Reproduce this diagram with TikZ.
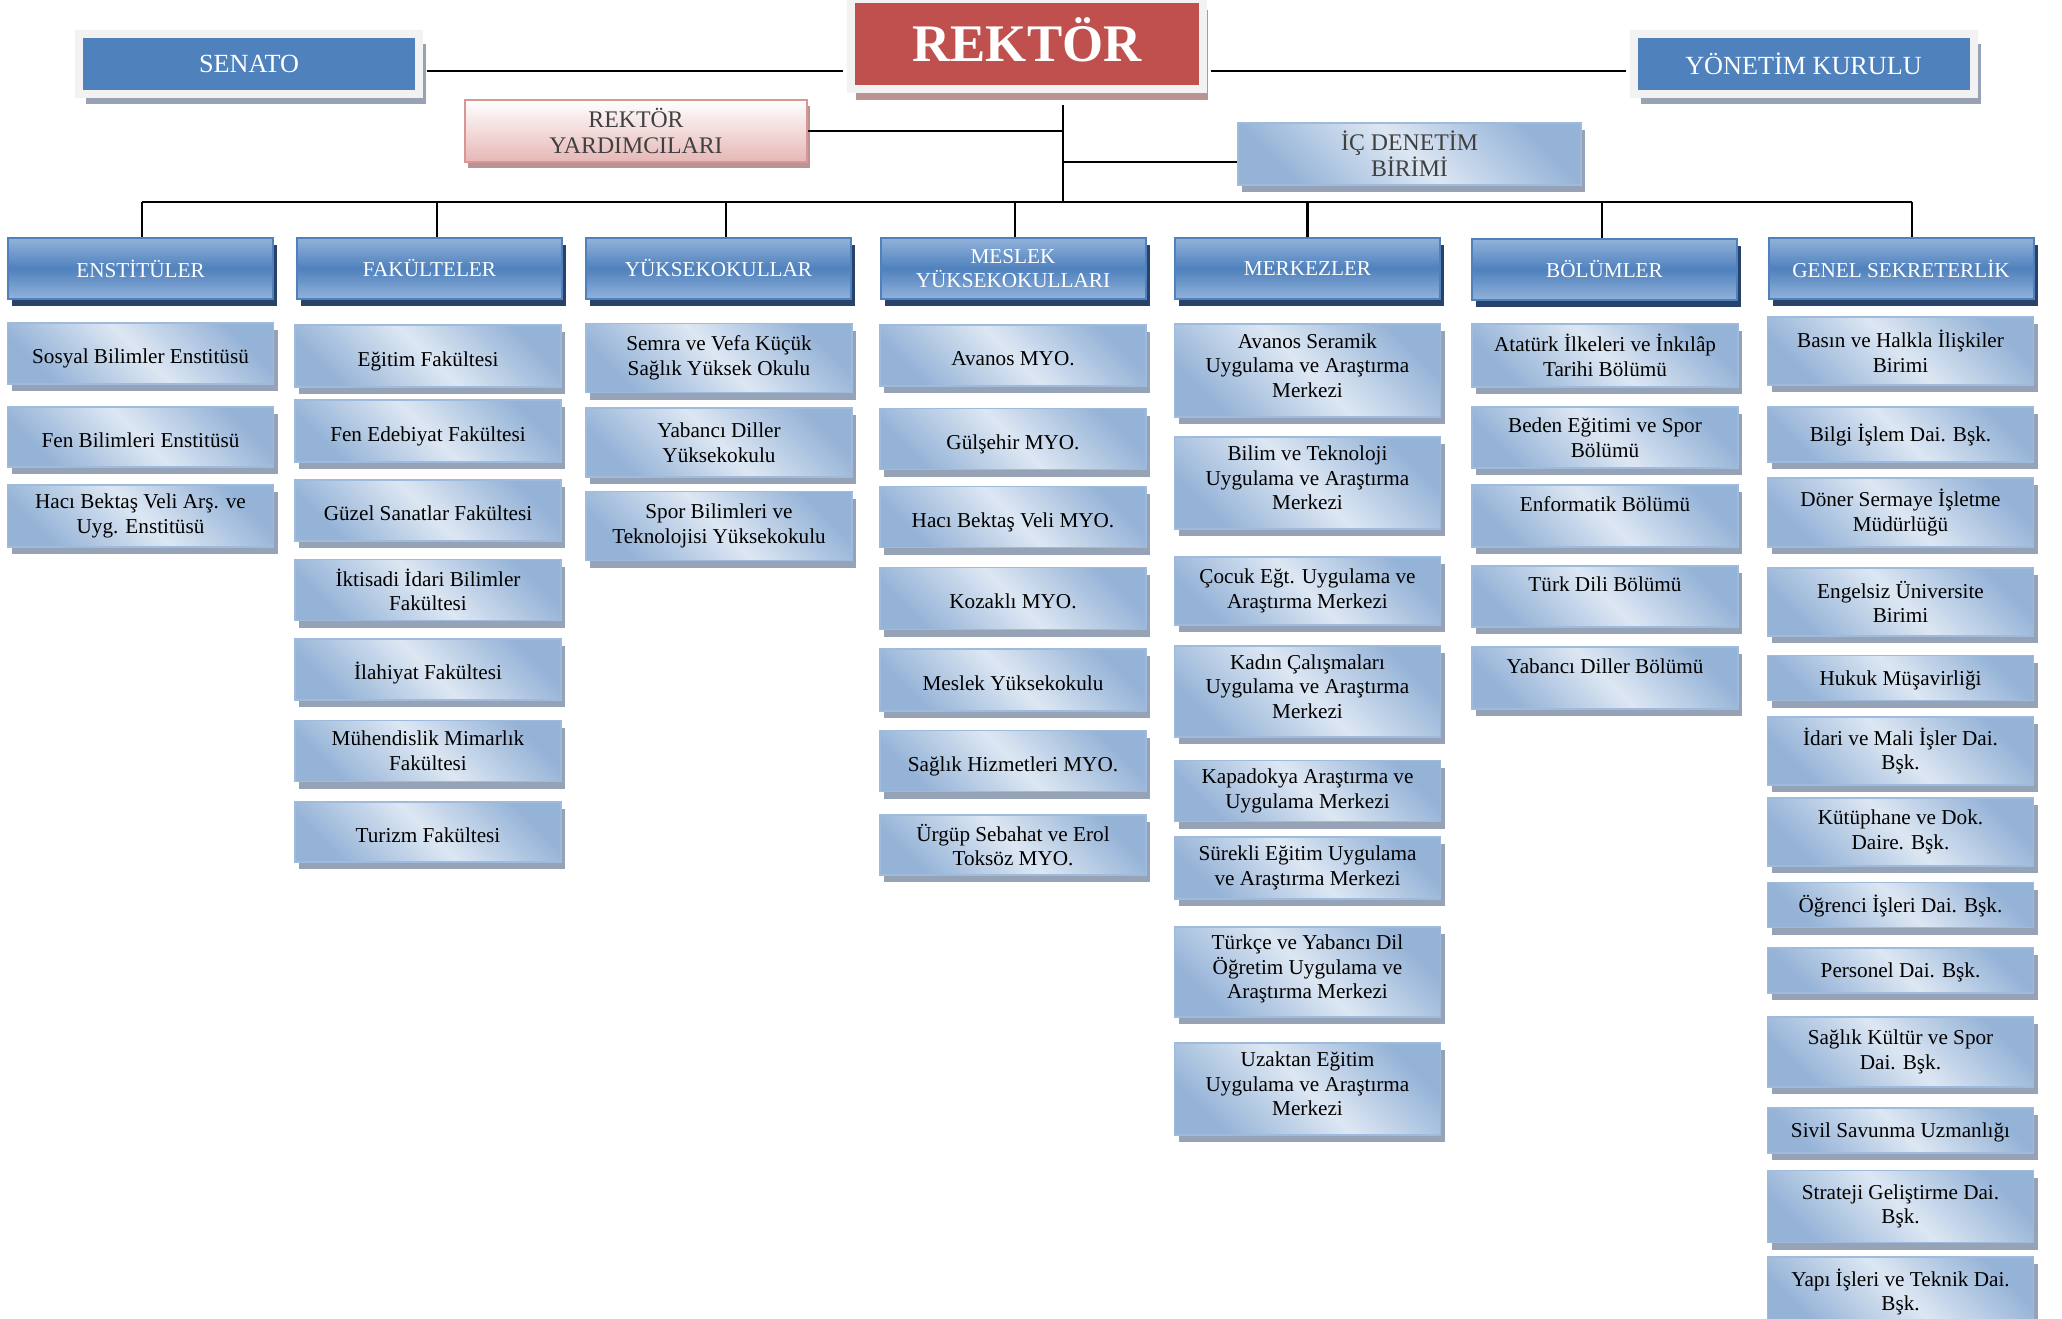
\documentclass[tikz,border=0pt]{standalone}
\usepackage{fontspec}
\setmainfont{Liberation Serif}
\usetikzlibrary{shadows}

\definecolor{unitblue}{RGB}{149,179,215}
\definecolor{unitlight}{RGB}{221,231,243}
\definecolor{unitline}{RGB}{158,187,222}
\definecolor{unitshadow}{RGB}{150,163,182}
\definecolor{headblue}{RGB}{79,129,189}
\definecolor{headlight}{RGB}{146,178,218}
\definecolor{headshadow}{RGB}{41,66,105}
\definecolor{boardblue}{RGB}{79,129,189}
\definecolor{framegray}{RGB}{242,242,242}
\definecolor{boardshadow}{RGB}{152,162,180}
\definecolor{rektorred}{RGB}{192,80,77}
\definecolor{rektorshadow}{RGB}{184,148,147}
\definecolor{pinkfill}{RGB}{230,183,182}
\definecolor{pinkline}{RGB}{217,150,148}
\definecolor{darktext}{RGB}{64,64,64}

\tikzset{
    unitbox/.style={rectangle, draw=unitline, line width=0.7pt,
        top color=unitblue, bottom color=unitblue, middle color=unitlight, shading angle=-45,
        minimum width=133pt, inner sep=0pt, align=center,
        font=\fontsize{10.6pt}{12.3pt}\selectfont,
        drop shadow={shadow xshift=2pt, shadow yshift=-3.5pt, fill=unitshadow, opacity=1}},
    oneline/.style={text height=#1, text depth=1pt},
    threeline/.style={text depth=5pt},
    headbox/.style={rectangle, draw=headblue, line width=1pt,
        top color=headlight, bottom color=headlight, middle color=headblue,
        minimum width=132.5pt, minimum height=30.5pt, inner sep=0pt, align=center, text=white,
        font=\fontsize{10.6pt}{12.3pt}\selectfont,
        drop shadow={shadow xshift=2pt, shadow yshift=-3.5pt, fill=headshadow, opacity=1}},
    boardbox/.style={rectangle, draw=framegray, line width=4pt, fill=boardblue, text=white,
        minimum width=170pt, minimum height=30pt, inner sep=0pt,
        font=\fontsize{13.1pt}{15pt}\selectfont,
        drop shadow={shadow xshift=3.5pt, shadow yshift=-5pt, fill=boardshadow, opacity=1}},
    rektorbox/.style={rectangle, draw=framegray, line width=4pt, fill=rektorred, text=white,
        minimum width=176pt, minimum height=45pt, inner sep=0pt, text height=17pt, text depth=0pt,
        font=\fontsize{26.4pt}{30pt}\selectfont\bfseries,
        drop shadow={shadow xshift=2.5pt, shadow yshift=-5.5pt, fill=rektorshadow, opacity=1}},
    deputybox/.style={rectangle, draw=pinkline, line width=0.8pt, top color=white, bottom color=pinkfill,
        minimum width=171pt, minimum height=31pt, inner sep=0pt, align=center, text=darktext,
        font=\fontsize{11.9pt}{13pt}\selectfont,
        drop shadow={shadow xshift=1.5pt, shadow yshift=-3pt, fill=rektorshadow, opacity=1}},
    auditbox/.style={unitbox, minimum width=171.5pt, minimum height=31pt, text=darktext,
        font=\fontsize{11.9pt}{13pt}\selectfont},
    link/.style={line width=1.2pt}
}

\begin{document}
\begin{tikzpicture}[x=0.5pt, y=-0.5pt]
    \useasboundingbox[fill=white] (0,0) rectangle (2062,1318);

    % top level
    \node[boardbox] (senato) at (249,64) {SENATO};
    \node[rektorbox] (rektor) at (1027,44) {REKTÖR};
    \node[boardbox] (yonetim) at (1803.5,64) {YÖNETİM KURULU};
    \node[deputybox] (yardimci) at (636,131) {REKTÖR\\YARDIMCILARI};
    \node[auditbox] (denetim) at (1409.5,154) {İÇ DENETİM\\BİRİMİ};
    \coordinate (hub) at (1063,202);

    \draw[link, shorten <=2pt, shorten >=2pt] ([yshift=-3.5pt]senato.east) -- ([yshift=-3.5pt]senato.east -| rektor.west);
    \draw[link, shorten <=2pt, shorten >=2pt] ([yshift=-3.5pt]yonetim.west -| rektor.east) -- ([yshift=-3.5pt]yonetim.west);
    \draw[link, shorten <=6pt] (rektor.south -| hub) -- (hub);
    \draw[link] (yardimci.east) -- (yardimci.east -| hub);
    \draw[link] ([yshift=-4pt]denetim.west) -- ([yshift=-4pt]denetim.west -| hub);

    % second level
    \node[headbox] (enstitu) at (140.5,268.5) {ENSTİTÜLER};
    \node[headbox] (fakulte) at (429.5,268.5) {FAKÜLTELER};
    \node[headbox] (yuksekokul) at (718.5,268.5) {YÜKSEKOKULLAR};
    \node[headbox] (myo) at (1013,268.5) {MESLEK\\YÜKSEKOKULLARI};
    \node[headbox] (merkez) at (1307.5,268.5) {MERKEZLER};
    \node[headbox] (bolum) at (1604.5,269.5) {BÖLÜMLER};
    \node[headbox] (genel) at (1901,268.5) {GENEL SEKRETERLİK};

    \draw[link] ([xshift=0.75pt]enstitu.north |- hub) -- ([xshift=5.5pt]genel.north |- hub);
    \draw[link] ([xshift=0.75pt]enstitu.north |- hub) -- ([xshift=0.75pt]enstitu.north);
    \draw[link] ([xshift=3.75pt]fakulte.north |- hub) -- ([xshift=3.75pt]fakulte.north);
    \draw[link] ([xshift=3.75pt]yuksekokul.north |- hub) -- ([xshift=3.75pt]yuksekokul.north);
    \draw[link] ([xshift=1pt]myo.north |- hub) -- ([xshift=1pt]myo.north);
    \draw[link] (merkez.north |- hub) -- (merkez.north);
    \draw[link] ([xshift=-1.25pt]bolum.north |- hub) -- ([xshift=-1.25pt]bolum.north);
    \draw[link] ([xshift=5.5pt]genel.north |- hub) -- ([xshift=5.5pt]genel.north);

    % enstituler
    \node[unitbox, oneline=11pt, minimum height=30.5pt] (sosyal) at (140.5,353.5) {Sosyal Bilimler Enstitüsü};
    \node[unitbox, oneline=11pt, minimum height=30pt] (fenbil) at (140.5,437) {Fen Bilimleri Enstitüsü};
    \node[unitbox, minimum height=31pt] (hbvenst) at (140.5,516) {Hacı Bektaş Veli Arş. ve\\Uyg. Enstitüsü};

    % fakulteler
    \node[unitbox, oneline=11pt, minimum height=31pt] (egitim) at (428,356) {Eğitim Fakültesi};
    \node[unitbox, oneline=11pt, minimum height=31pt] (fenedebiyat) at (428,431) {Fen Edebiyat Fakültesi};
    \node[unitbox, oneline=11pt, minimum height=30.5pt] (guzel) at (428,510.5) {Güzel Sanatlar Fakültesi};
    \node[unitbox, minimum height=30.5pt] (iktisadi) at (428,590) {İktisadi İdari Bilimler\\Fakültesi};
    \node[unitbox, oneline=11pt, minimum height=30.5pt] (ilahiyat) at (428,669.5) {İlahiyat Fakültesi};
    \node[unitbox, minimum height=30.5pt] (muhendislik) at (428,751) {Mühendislik Mimarlık\\Fakültesi};
    \node[unitbox, oneline=11pt, minimum height=30pt] (turizm) at (428,832) {Turizm Fakültesi};

    % yuksekokullar
    \node[unitbox, minimum height=34.5pt] (semra) at (719,358) {Semra ve Vefa Küçük\\Sağlık Yüksek Okulu};
    \node[unitbox, minimum height=34.5pt] (yabanci) at (719,442.5) {Yabancı Diller\\Yüksekokulu};
    \node[unitbox, minimum height=34.5pt] (spor) at (719,526) {Spor Bilimleri ve\\Teknolojisi Yüksekokulu};

    % meslek yuksekokullari
    \node[unitbox, oneline=11pt, minimum height=30.5pt] (avanos) at (1013,355.5) {Avanos MYO.};
    \node[unitbox, oneline=11pt, minimum height=30.5pt] (gulsehir) at (1013,439) {Gülşehir MYO.};
    \node[unitbox, oneline=11pt, minimum height=30.5pt] (hbvmyo) at (1013,517) {Hacı Bektaş Veli MYO.};
    \node[unitbox, oneline=11pt, minimum height=31pt] (kozakli) at (1013,598.5) {Kozaklı MYO.};
    \node[unitbox, oneline=11pt, minimum height=31pt] (meslek) at (1013,680) {Meslek Yüksekokulu};
    \node[unitbox, oneline=11pt, minimum height=30.5pt] (saglikhiz) at (1013,761) {Sağlık Hizmetleri MYO.};
    \node[unitbox, minimum height=30pt] (urgup) at (1013,845) {Ürgüp Sebahat ve Erol\\Toksöz MYO.};

    % merkezler
    \node[unitbox, threeline, minimum height=46.5pt] (seramik) at (1307.5,370.5) {Avanos Seramik\\Uygulama ve Araştırma\\Merkezi};
    \node[unitbox, threeline, minimum height=46pt] (bilim) at (1307.5,483) {Bilim ve Teknoloji\\Uygulama ve Araştırma\\Merkezi};
    \node[unitbox, minimum height=34pt] (cocuk) at (1307.5,591) {Çocuk Eğt. Uygulama ve\\Araştırma Merkezi};
    \node[unitbox, threeline, minimum height=45.5pt] (kadin) at (1307.5,691.5) {Kadın Çalışmaları\\Uygulama ve Araştırma\\Merkezi};
    \node[unitbox, minimum height=30.5pt] (kapadokya) at (1307.5,791) {Kapadokya Araştırma ve\\Uygulama Merkezi};
    \node[unitbox, minimum height=31pt] (surekli) at (1307.5,868) {Sürekli Eğitim Uygulama\\ve Araştırma Merkezi};
    \node[unitbox, threeline, minimum height=45pt] (turkce) at (1307.5,972) {Türkçe ve Yabancı Dil\\Öğretim Uygulama ve\\Araştırma Merkezi};
    \node[unitbox, threeline, minimum height=46pt] (uzaktan) at (1307.5,1089) {Uzaktan Eğitim\\Uygulama ve Araştırma\\Merkezi};

    % bolumler
    \node[unitbox, minimum height=31.5pt] (ataturk) at (1605,355.5) {Atatürk İlkeleri ve İnkılâp\\Tarihi Bölümü};
    \node[unitbox, minimum height=30.5pt] (beden) at (1605,437.5) {Beden Eğitimi ve Spor\\Bölümü};
    \node[unitbox, minimum height=31pt] (enformatik) at (1605,516) {Enformatik Bölümü\\\mbox{}};
    \node[unitbox, minimum height=30.5pt] (turkdili) at (1605,596.5) {Türk Dili Bölümü\\\mbox{}};
    \node[unitbox, minimum height=31pt] (yabancidil) at (1605,678) {Yabancı Diller Bölümü\\\mbox{}};

    % genel sekreterlik
    \node[unitbox, minimum height=34pt] (basin) at (1900.5,351) {Basın ve Halkla İlişkiler\\Birimi};
    \node[unitbox, oneline=7.5pt, minimum height=27.5pt] (bilgi) at (1900.5,434.5) {Bilgi İşlem Dai. Bşk.};
    \node[unitbox, minimum height=34.5pt] (doner) at (1900.5,512.5) {Döner Sermaye İşletme\\Müdürlüğü};
    \node[unitbox, minimum height=34pt] (engelsiz) at (1900.5,602) {Engelsiz Üniversite\\Birimi};
    \node[unitbox, oneline=8pt, minimum height=22.5pt] (hukuk) at (1900.5,678) {Hukuk Müşavirliği};
    \node[unitbox, minimum height=34pt] (idari) at (1900.5,751) {İdari ve Mali İşler Dai.\\Bşk.};
    \node[unitbox, minimum height=34pt] (kutuphane) at (1900.5,832) {Kütüphane ve Dok.\\Daire. Bşk.};
    \node[unitbox, oneline=8pt, minimum height=22.5pt] (ogrenci) at (1900.5,905) {Öğrenci İşleri Dai. Bşk.};
    \node[unitbox, oneline=8pt, minimum height=22.5pt] (personel) at (1900.5,970.5) {Personel Dai. Bşk.};
    \node[unitbox, minimum height=35pt] (saglikkultur) at (1900.5,1052) {Sağlık Kültür ve Spor\\Dai. Bşk.};
    \node[unitbox, oneline=8pt, minimum height=22.5pt] (sivil) at (1900.5,1130.5) {Sivil Savunma Uzmanlığı};
    \node[unitbox, minimum height=36pt] (strateji) at (1900.5,1206.5) {Strateji Geliştirme Dai.\\Bşk.};
    \node[unitbox, minimum height=35pt] (yapi) at (1900.5,1292) {Yapı İşleri ve Teknik Dai.\\Bşk.};
\end{tikzpicture}
\end{document}
